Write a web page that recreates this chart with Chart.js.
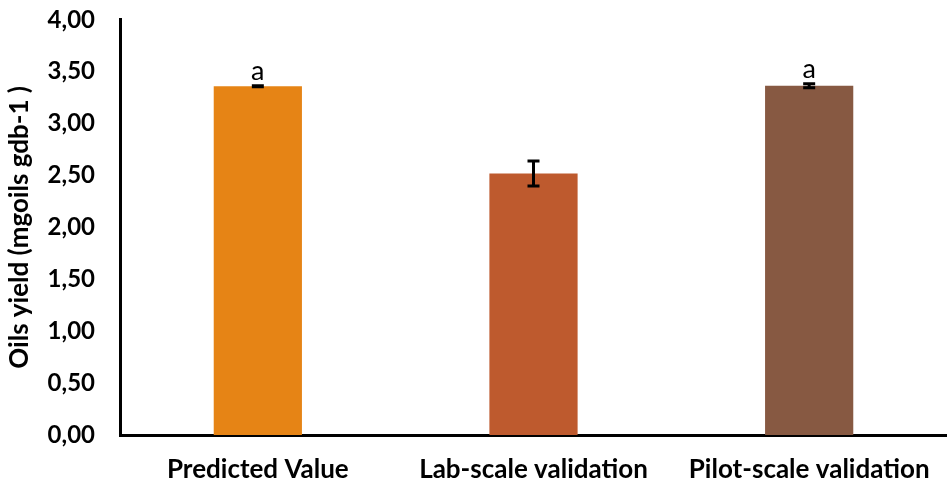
<!DOCTYPE html>
<html>
<head>
<meta charset="utf-8">
<script src="https://cdn.jsdelivr.net/npm/chart.js@4"></script>
<style>
  html, body { margin: 0; padding: 0; background: #fff; }
  #wrap { width: 947px; height: 483px; }
</style>
</head>
<body>
<div id="wrap"><canvas id="myChart"></canvas></div>
<script>
// data
const categories = ['Predicted Value', 'Lab-scale validation', 'Pilot-scale validation'];
const yields = [3.36, 2.52, 3.365];
const errors = [0.005, 0.12, 0.02];
const letters = ['a', '', 'a'];
const barColors = ['#E68415', '#BE5A2E', '#875942'];
const yTicks = [0, 0.5, 1, 1.5, 2, 2.5, 3, 3.5, 4];

const FONT = 'Lato, "Open Sans", sans-serif';

// error bars + letters on top of the bars
const errorBars = {
  id: 'errorBars',
  afterDatasetsDraw(chart) {
    const ctx = chart.ctx;
    const y = chart.scales.y;
    const meta = chart.getDatasetMeta(0);
    ctx.save();
    meta.data.forEach((bar, i) => {
      const x = bar.x;
      const top = y.getPixelForValue(yields[i] + errors[i]);
      const bot = y.getPixelForValue(yields[i] - errors[i]);
      ctx.strokeStyle = '#000';
      ctx.lineWidth = 3;
      ctx.beginPath();
      ctx.moveTo(x, top); ctx.lineTo(x, bot);
      ctx.moveTo(x - 6, top); ctx.lineTo(x + 6, top);
      ctx.moveTo(x - 6, bot); ctx.lineTo(x + 6, bot);
      ctx.stroke();
      if (letters[i]) {
        ctx.fillStyle = '#000';
        ctx.font = '27px ' + FONT;
        ctx.textAlign = 'center';
        ctx.textBaseline = 'alphabetic';
        ctx.fillText(letters[i], x, top - 6);
      }
    });
    ctx.restore();
  }
};

const data = {
  labels: categories,
  datasets: [{
    data: yields,
    backgroundColor: barColors,
    borderWidth: 0,
    categoryPercentage: 1,
    barPercentage: 0.32
  }]
};

const config = {
  type: 'bar',
  data: data,
  options: {
    responsive: true,
    maintainAspectRatio: false,
    animation: false,
    layout: { padding: { top: 0, right: 0, left: 0, bottom: 0 } },
    plugins: {
      legend: { display: false },
      tooltip: { enabled: false }
    },
    scales: {
      x: {
        grid: { display: false, drawTicks: true, tickLength: 22 },
        border: { color: '#000', width: 3 },
        ticks: {
          color: '#000',
          padding: 0,
          font: { family: FONT, size: 26, weight: 'bold', lineHeight: 1 }
        }
      },
      y: {
        min: 0,
        max: 4,
        afterBuildTicks(axis) { axis.ticks = yTicks.map(v => ({ value: v })); },
        afterFit(axis) { axis.width = 120; },
        grid: { display: false, drawTicks: true, tickLength: 25 },
        border: { color: '#000', width: 3 },
        ticks: {
          color: '#000',
          padding: 0,
          font: { family: FONT, size: 24, weight: 'bold', lineHeight: 1.65 },
          callback: v => Number(v).toFixed(2).replace('.', ',')
        },
        title: {
          display: true,
          text: 'Oils yield (mgoils gdb-1 )',
          color: '#000',
          padding: { top: 4, bottom: 0 },
          font: { family: FONT, size: 26, weight: 'bold' }
        }
      }
    }
  },
  plugins: [errorBars]
};

const myChart = new Chart(document.getElementById('myChart'), config);
</script>
</body>
</html>
